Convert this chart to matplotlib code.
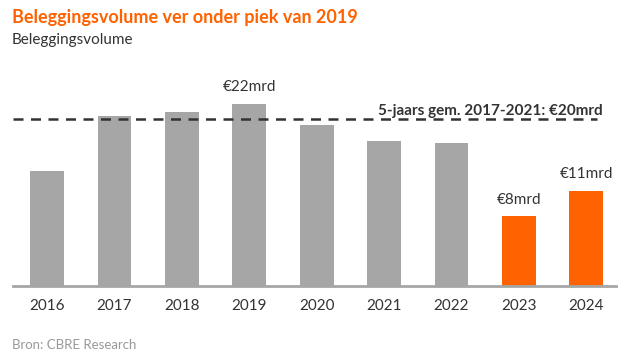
import matplotlib
matplotlib.use("Agg")
import matplotlib.pyplot as plt

years = ["2016", "2017", "2018", "2019", "2020", "2021", "2022", "2023", "2024"]
volumes = [13.9, 20.6, 21.1, 22.0, 19.5, 17.5, 17.3, 8.4, 11.5]
bar_colors = ["#A6A6A6"] * 7 + ["#FF6200"] * 2
value_labels = {3: "€22mrd", 7: "€8mrd", 8: "€11mrd"}
avg_value = 20.2
avg_label = "5-jaars gem. 2017-2021: €20mrd"

plt.rcParams['font.family'] = ['Lato', 'DejaVu Sans']

W, H = 626, 354
fig = plt.figure(figsize=(W / 100, H / 100), dpi=100)
ax_left, ax_right = 13 / W, 616 / W
ax_bottom = 1 - 285.5 / H
ymax = 24
ax_top_px = 285.5 - ymax * 8.24
ax = fig.add_axes([ax_left, ax_bottom, ax_right - ax_left, (285.5 - ax_top_px) / H])

x = list(range(len(years)))
ax.bar(x, volumes, width=0.5, color=bar_colors, zorder=2)
ax.set_xlim(-0.505, 8.44)
ax.set_ylim(0, ymax)

ax.plot([-0.505, 8.16], [avg_value, avg_value], linestyle=(0, (4, 3)),
        color="#333333", linewidth=1.8, zorder=3)
ax.text(8.24, avg_value + 0.95, avg_label, ha="right", va="center",
        fontsize=11, fontweight="bold", color="#333333")

for i, lab in value_labels.items():
    ax.annotate(lab, (x[i], volumes[i]), xytext=(0, 7), textcoords="offset points",
                ha="center", va="bottom", fontsize=11, color="#333333")

for s in ["top", "right", "left"]:
    ax.spines[s].set_visible(False)
ax.spines["bottom"].set_color("#A6A6A6")
ax.spines["bottom"].set_linewidth(2)
ax.set_yticks([])
ax.set_xticks(x)
ax.set_xticklabels(years, fontsize=11, color="#333333")
ax.tick_params(axis="x", length=0, pad=10)

fig.text(12 / W, 1 - 17 / H, "Beleggingsvolume ver onder piek van 2019", ha="left", va="center",
         fontsize=13, fontweight="bold", color="#FF6200")
fig.text(12 / W, 1 - 40 / H, "Beleggingsvolume", ha="left", va="center",
         fontsize=11, color="#333333")
fig.text(12 / W, 1 - 345 / H, "Bron: CBRE Research", ha="left", va="center",
         fontsize=9.5, color="#999999")

fig.savefig("out.png", dpi=100)
